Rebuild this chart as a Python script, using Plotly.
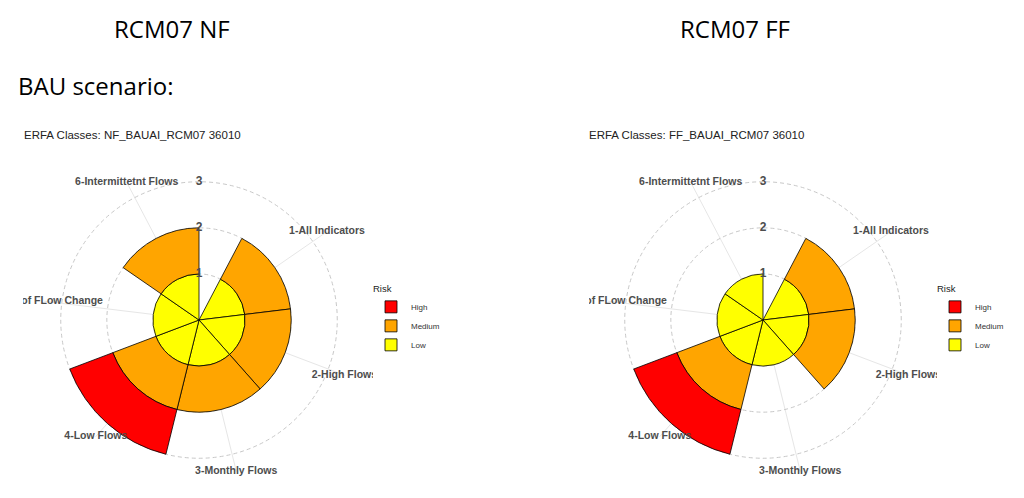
import plotly.graph_objects as go

indicators = ["1-All Indicators", "2-High Flows", "3-Monthly Flows",
              "4-Low Flows", "5-Rate of FLow Change", "6-Intermittetnt Flows"]
positions = [1, 2, 3, 4, 5, 6]
risk_levels = ["Low", "Medium", "High"]
risk_colors = ["#FFFF00", "#FFA500", "#FF0000"]

# stacked class pieces per indicator (None = no piece)
nf_low = [1, 1, 1, 1, 1, 1]
nf_medium = [1, 1, 1, 1, None, 1]
nf_high = [None, None, None, 1, None, None]

ff_low = [1, 1, 1, 1, 1, 1]
ff_medium = [1, 1, None, 1, None, None]
ff_high = [None, None, None, 1, None, None]

r_ticks = [1, 2, 3]

# ggplot discrete theta scale: 6 bars spread over 6.5 slots
slots = 6.5
step = 360 / slots
theta = [p * step for p in positions]
r_max = 3 * 0.45 / 0.4  # outer ring where ggplot puts the theta labels

# page has an 8px body margin, so lay out in page pixels and shift
W, H, OFF = 1016, 490, 8


def px(x):
    return (x - OFF) / W


def py(y):
    return 1 - (y - OFF) / H


lab_font = dict(family="Liberation Sans", size=10.5, color="#4D4D4D", weight="bold")

fig = go.Figure()

panels = [("polar", "legend", [nf_low, nf_medium, nf_high]),
          ("polar2", "legend2", [ff_low, ff_medium, ff_high])]

for sub, leg, series in panels:
    # radial labels (behind bars in ggplot)
    fig.add_trace(go.Scatterpolar(
        r=r_ticks, theta=[0] * len(r_ticks), mode="text",
        text=[str(v) for v in r_ticks], textposition="middle center",
        textfont=dict(family="Liberation Sans", size=12, color="#4D4D4D", weight="bold"),
        showlegend=False, hoverinfo="skip", subplot=sub))
    for name, col, vals in zip(risk_levels, risk_colors, series):
        fig.add_trace(go.Barpolar(
            r=vals, theta=theta, width=[step] * len(theta), name=name,
            marker=dict(color=col, line=dict(color="black", width=0.8)),
            subplot=sub, legend=leg))
    # indicator labels centred on the outer ring
    fig.add_trace(go.Scatterpolar(
        r=[r_max] * len(indicators), theta=theta, mode="text",
        text=indicators, textposition="middle center", textfont=lab_font,
        cliponaxis=False, showlegend=False, hoverinfo="skip", subplot=sub))

polar_common = dict(
    bgcolor="white",
    barmode="stack",
    hole=0,
    radialaxis=dict(range=[0, r_max + 0.01], tickvals=r_ticks + [r_max],
                    showticklabels=False, ticks="", showline=False,
                    gridcolor="#c8c8c8", gridwidth=1, griddash="4px,3px"),
    angularaxis=dict(type="linear", thetaunit="degrees", rotation=90,
                     direction="clockwise", tickvals=theta,
                     showticklabels=False, ticks="", showline=False,
                     gridcolor="#e6e6e6", gridwidth=1),
)

legend_common = dict(
    xanchor="left", yanchor="top", traceorder="reversed",
    title=dict(text="Risk", font=dict(size=9.5, color="#222")),
    font=dict(family="Liberation Sans", size=8, color="#333"),
    itemwidth=30, tracegroupgap=0, bgcolor="rgba(0,0,0,0)",
)

fig.update_layout(
    width=W, height=H,
    margin=dict(l=0, r=0, t=0, b=0),
    paper_bgcolor="white",
    polar=dict(domain=dict(x=[px(43), px(355)], y=[py(476), py(164)]), **polar_common),
    polar2=dict(domain=dict(x=[px(607), px(919)], y=[py(476), py(164)]), **polar_common),
    legend=dict(x=px(371), y=py(280), **legend_common),
    legend2=dict(x=px(935), y=py(280), **legend_common),
    showlegend=True,
)

big = dict(family="Open Sans", size=24, color="black")
small = dict(family="Liberation Sans", size=11.5, color="#222")
annos = [
    dict(text="RCM07 NF", x=px(172), y=py(29), xanchor="center", font=big),
    dict(text="RCM07 FF", x=px(735), y=py(29), xanchor="center", font=big),
    dict(text="BAU scenario:", x=px(16), y=py(85), xanchor="left", font=big),
    dict(text="ERFA Classes: NF_BAUAI_RCM07 36010", x=px(22), y=py(135),
         xanchor="left", font=small),
    dict(text="ERFA Classes: FF_BAUAI_RCM07 36010", x=px(587), y=py(135),
         xanchor="left", font=small),
]
for a in annos:
    fig.add_annotation(xref="paper", yref="paper", yanchor="middle", showarrow=False, **a)

# the source images are cropped, cutting the "5-Rate" and "2-High Flows" labels
masks = [(8, 23, 288, 315), (530, 589, 288, 315),
         (373, 386, 366, 388), (937, 950, 366, 388)]
for x0, x1, y0, y1 in masks:
    fig.add_shape(type="rect", xref="paper", yref="paper", layer="above",
                  x0=px(x0), x1=px(x1), y0=py(y1), y1=py(y0),
                  fillcolor="white", line=dict(width=0))

fig.write_html("out.html")
